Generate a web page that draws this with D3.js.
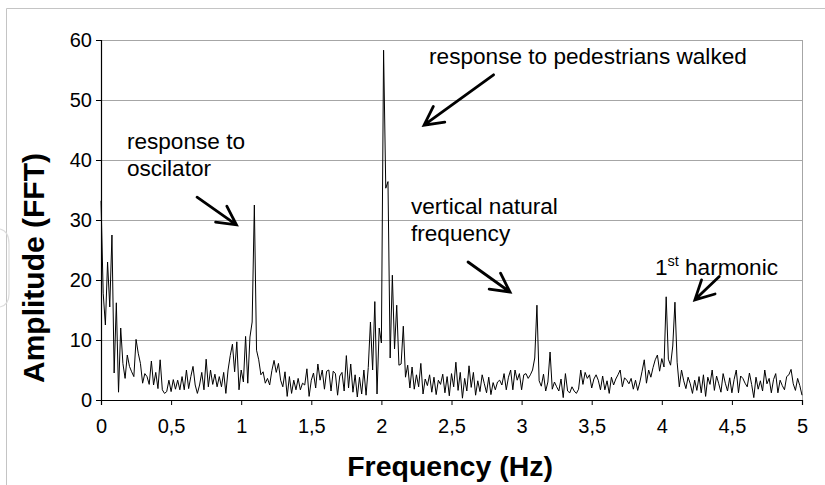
<!DOCTYPE html>
<html>
<head>
<meta charset="utf-8">
<script src="https://cdn.jsdelivr.net/npm/d3@7"></script>
<style>
  html, body { margin: 0; padding: 0; background: #fff; }
  svg { display: block; font-family: "Liberation Sans", Arial, sans-serif; }
</style>
</head>
<body>
<svg id="chart" width="825" height="485"></svg>
<script>
// FFT amplitude spectrum of the footbridge vertical response, 0-5 Hz, 321 bins
const binCount = 321;
const maxFrequency = 5;
const frequencies = d3.range(binCount).map(i => i * maxFrequency / (binCount - 1));
const amplitudes = [
  33.2, 17.8, 12.5, 23, 15.5, 27.5, 4.5, 16.2, 1.3, 12, 6.1, 3.6, 7.5, 5.6, 4.7, 3.9,
  10.1, 7.8, 6.1, 2.8, 4.4, 3.9, 2.6, 6.5, 2.5, 4.6, 1.9, 6.7, 1.7, 1.1, 1.4, 3.3,
  1.4, 3.4, 1.8, 3.3, 1.7, 3.9, 1.7, 5, 1.9, 3.9, 5.6, 2.5, 1.1, 2.5, 4.6, 1.7,
  6.8, 2.2, 5, 2.6, 4.3, 2.2, 3.9, 2.2, 4.6, 1.1, 5, 7.4, 9.3, 4.7, 9.7, 1.7,
  5, 3, 10.6, 2.8, 10.5, 13, 32.5, 8.3, 6.7, 4.2, 4.7, 2.8, 3.6, 2.5, 4.9, 6.6,
  4.6, 6.1, 3.3, 2.2, 4.7, 0.6, 3.9, 1.1, 3.3, 1.7, 3.6, 1.7, 2.8, 2.5, 5.2, 0.6,
  3.3, 4.5, 2, 6, 3.3, 5, 1.8, 4.8, 5, 1.5, 4.8, 4.4, 0.8, 4, 4.6, 1.5,
  7.4, 2, 6, 1.3, 4.2, 0.5, 3.8, 1, 5, 0.8, 5.4, 13, 5, 16.4, 1, 12,
  9.5, 58.3, 35.3, 36.4, 7, 20.8, 8.5, 15.8, 5.8, 6, 12.3, 3.8, 5.8, 2, 5.5, 1.8,
  4.2, 2.2, 6.1, 1, 3.5, 2.4, 4.2, 1.3, 3.8, 0.9, 3.3, 2.6, 4.3, 1.2, 3.9, 0.7,
  4.4, 2.2, 6.3, 1.6, 4.6, 0.3, 3.6, 1.5, 5.7, 2.1, 4.6, 0.8, 3.2, 1.4, 4.2, 2.7,
  1.2, 3.8, 0.9, 2.9, 1.7, 3, 3.3, 2.5, 4.4, 1.7, 3.8, 5, 1.7, 5, 3.3, 4.4,
  1.7, 4.2, 4.4, 3.6, 4.2, 5, 7, 15.8, 3.2, 2.3, 4.3, 1.5, 3, 8, 1.8, 3,
  2.2, 1.5, 3.5, 0.4, 4.4, 1.5, 1.2, 2.2, 1.5, 1.1, 1.8, 5, 2.6, 4.6, 3.6, 4.2,
  2, 3.5, 4.2, 3.3, 1.7, 4, 1.7, 3.2, 1.1, 3.8, 2.5, 3.5, 4.2, 5, 2.2, 3.7,
  3.3, 2.7, 3.6, 1.8, 3.3, 1.6, 3, 4.8, 6.7, 2.8, 5, 3.8, 5.4, 6.7, 7.5, 4.8,
  6.9, 5.5, 17.2, 6.8, 5.8, 9, 16.3, 6.3, 2.2, 5, 3.2, 1.9, 3.8, 2.7, 1.1, 3.3,
  1.6, 3.9, 1.2, 4.2, 0.6, 3.8, 2.6, 5, 1.6, 4, 2.7, 1.3, 4.4, 2.8, 1.5, 3.7,
  1.2, 3.4, 5, 1.2, 4, 3.6, 2.8, 2.2, 4.5, 2.6, 0.4, 3.8, 1.8, 3.2, 1.5, 5,
  2.7, 3.6, 1.2, 3.4, 4.4, 1.2, 3.3, 2.4, 1.7, 3.9, 4.2, 5.1, 2.7, 1.6, 3.6, 2.4, 0.8
];

const xTickValues = [0, 0.5, 1, 1.5, 2, 2.5, 3, 3.5, 4, 4.5, 5];
const xTickLabels = ["0", "0,5", "1", "1,5", "2", "2,5", "3", "3,5", "4", "4,5", "5"];
const yTickValues = [0, 10, 20, 30, 40, 50, 60];

const xTitle = "Frequency (Hz)";
const yTitle = "Amplitude (FFT)";

// Annotation texts (lines) anchored in data units, with arrows tail -> tip
const noteLines = [
  { lines: ["response to pedestrians walked"], f: 2.34, a: 56 },
  { lines: ["response to", "oscilator"], f: 0.185, a: 41.8 },
  { lines: ["vertical natural", "frequency"], f: 2.211, a: 31 }
];
const noteArrows = [
  { from: [2.80, 54.2], to: [2.304, 45.8] },
  { from: [0.685, 33.8], to: [0.966, 29.2] },
  { from: [2.618, 23], to: [2.917, 18] },
  { from: [4.41, 20.6], to: [4.236, 16.7] }
];
const harmonicNote = { f: 3.951, a: 20.8 };

const margin = { top: 40, right: 23, bottom: 85, left: 101 };
const width = 825, height = 485;
const innerW = width - margin.left - margin.right;
const innerH = height - margin.top - margin.bottom;

const svg = d3.select("#chart");

// faint page frame around the figure
svg.append("path")
  .attr("d", "M6.5,485 V8.5 H825")
  .attr("fill", "none")
  .attr("stroke", "#c4c4c4")
  .attr("stroke-width", 1);

// faint bracket mark at the left page edge
svg.append("path")
  .attr("d", "M0,229 Q9,231 9,244 V294 Q9,305 0,307")
  .attr("fill", "none")
  .attr("stroke", "#dcdcdc")
  .attr("stroke-width", 1.2);

const g = svg.append("g").attr("transform", `translate(${margin.left},${margin.top})`);

const x = d3.scaleLinear().domain([0, maxFrequency]).range([0, innerW]);
const y = d3.scaleLinear().domain([0, 60]).range([innerH, 0]);

// horizontal gridlines
g.append("g")
  .selectAll("line")
  .data(yTickValues.filter(v => v > 0))
  .join("line")
  .attr("x1", 0).attr("x2", innerW)
  .attr("y1", d => y(d) + 0.5).attr("y2", d => y(d) + 0.5)
  .attr("stroke", "#a6a6a6")
  .attr("stroke-width", 1);

// right border of the plot area
g.append("line")
  .attr("x1", innerW + 0.5).attr("x2", innerW + 0.5)
  .attr("y1", 0).attr("y2", innerH)
  .attr("stroke", "#a6a6a6");

// spectrum line
const line = d3.line()
  .x((d, i) => x(frequencies[i]))
  .y(d => y(d));

g.append("path")
  .datum(amplitudes)
  .attr("d", line)
  .attr("fill", "none")
  .attr("stroke", "#000")
  .attr("stroke-width", 1)
  .attr("stroke-linejoin", "round");

// axes
const xAxis = d3.axisBottom(x)
  .tickValues(xTickValues)
  .tickFormat((d, i) => xTickLabels[i])
  .tickSizeOuter(0)
  .tickSize(5)
  .tickPadding(14);

const yAxis = d3.axisLeft(y)
  .tickValues(yTickValues)
  .tickSizeOuter(0)
  .tickSize(5)
  .tickPadding(4);

const gx = g.append("g")
  .attr("transform", `translate(0,${innerH})`)
  .call(xAxis);
const gy = g.append("g").call(yAxis);

[gx, gy].forEach(ax => {
  ax.select(".domain").attr("stroke", "#000").attr("stroke-width", 1.2);
  ax.selectAll(".tick line").attr("stroke", "#000");
  ax.selectAll(".tick text")
    .attr("fill", "#000")
    .style("font-size", "20px")
    .style("font-family", "'Liberation Sans', Arial, sans-serif");
});

// axis titles
svg.append("text")
  .attr("x", margin.left + x(2.49))
  .attr("y", 476)
  .attr("text-anchor", "middle")
  .style("font-size", "28.5px")
  .style("font-weight", "bold")
  .text(xTitle);

svg.append("text")
  .attr("transform", `translate(44,${margin.top + y(22)}) rotate(-90)`)
  .attr("text-anchor", "middle")
  .style("font-size", "30px")
  .style("font-weight", "bold")
  .text(yTitle);

// annotations
const notes = g.append("g").style("font-size", "22.6px");
noteLines.forEach(n => {
  const t = notes.append("text")
    .attr("x", x(n.f))
    .attr("y", y(n.a));
  n.lines.forEach((s, k) => {
    t.append("tspan")
      .attr("x", x(n.f))
      .attr("dy", k === 0 ? 0 : 27)
      .text(s);
  });
});

const h = notes.append("text")
  .attr("x", x(harmonicNote.f))
  .attr("y", y(harmonicNote.a));
h.append("tspan").text("1");
h.append("tspan")
  .attr("dy", -9)
  .style("font-size", "14.5px")
  .text("st");
h.append("tspan")
  .attr("dy", 9)
  .text(" harmonic");

// arrows with open heads
const arrowLayer = g.append("g")
  .attr("stroke", "#000")
  .attr("stroke-width", 2.8)
  .attr("fill", "none")
  .attr("stroke-linecap", "round");

noteArrows.forEach(a => {
  const x0 = x(a.from[0]), y0 = y(a.from[1]);
  const x1 = x(a.to[0]), y1 = y(a.to[1]);
  const ang = Math.atan2(y1 - y0, x1 - x0);
  const len = 21, spread = Math.PI / 6.5;
  const hx1 = x1 - len * Math.cos(ang - spread), hy1 = y1 - len * Math.sin(ang - spread);
  const hx2 = x1 - len * Math.cos(ang + spread), hy2 = y1 - len * Math.sin(ang + spread);
  arrowLayer.append("path")
    .attr("d", `M${x0},${y0} L${x1},${y1} M${hx1},${hy1} L${x1},${y1} L${hx2},${hy2}`)
    .attr("stroke-linejoin", "miter");
});
</script>
</body>
</html>
